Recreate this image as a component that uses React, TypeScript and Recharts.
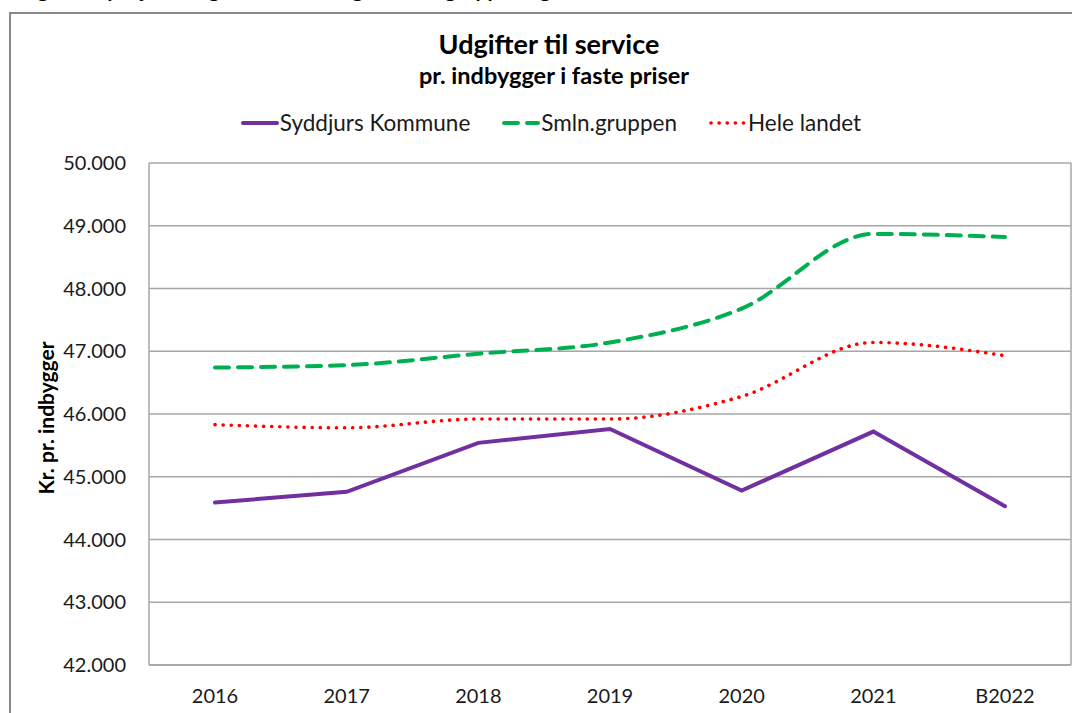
import { LineChart, Line, XAxis, YAxis, CartesianGrid } from "recharts";

const years = ["2016", "2017", "2018", "2019", "2020", "2021", "B2022"];
const syddjurs = [44590, 44760, 45540, 45760, 44780, 45720, 44530];
const smln = [46740, 46780, 46960, 47140, 47680, 48870, 48820];
const heleLandet = [45830, 45780, 45920, 45920, 46280, 47140, 46930];
const yTicks = [42000, 43000, 44000, 45000, 46000, 47000, 48000, 49000, 50000];

const data = years.map((year, i) => ({ year, syddjurs: syddjurs[i], smln: smln[i], hele: heleLandet[i] }));

const FONT = "Lato, 'Open Sans', sans-serif";
const GRID = "#a6a6a6";

const SERIES = [
  { key: "syddjurs", name: "Syddjurs Kommune", color: "#7030a0", dash: undefined, width: 4, type: "linear" as const },
  { key: "smln", name: "Smln.gruppen", color: "#00b050", dash: "14 9", width: 4, type: "monotone" as const },
  { key: "hele", name: "Hele landet", color: "#ff0000", dash: "0.1 8", width: 3.6, type: "monotone" as const },
];

const fmt = (v: number) => v.toLocaleString("da-DK").replace(/,/g, ".");

function LegendBox() {
  return (
    <div style={{ display: "flex", alignItems: "center", fontSize: 22.5, color: "#1a1a1a" }}>
      {SERIES.map((s, i) => (
        <div key={s.key} style={{ display: "flex", alignItems: "center", marginLeft: i === 0 ? 0 : 32 }}>
          <svg width={38} height={8} style={{ marginRight: 1 }}>
            <line x1={2} y1={4} x2={36} y2={4} stroke={s.color} strokeWidth={s.width} strokeDasharray={s.dash} strokeLinecap="round" />
          </svg>
          <span>{s.name}</span>
        </div>
      ))}
    </div>
  );
}

export default function App() {
  return (
    <div style={{ position: "fixed", left: 0, top: 0, width: 1072, height: 713, overflow: "hidden", background: "#fff", fontFamily: FONT }}>
      <div style={{ position: "absolute", left: 0, top: 0 }}>
        <LineChart width={1072} height={713} data={data} margin={{ top: 163, right: 0, left: 0, bottom: 0 }}>
          <CartesianGrid vertical={false} stroke={GRID} strokeWidth={1.5} />
          <XAxis dataKey="year" height={48} padding={{ left: 66, right: 66 }} axisLine={{ stroke: GRID, strokeWidth: 1.5 }}
            tickLine={false} tickMargin={18} tick={{ fill: "#1a1a1a", fontSize: 20, fontFamily: FONT }} />
          <YAxis width={149} domain={[42000, 50000]} ticks={yTicks} tickFormatter={fmt} axisLine={{ stroke: GRID, strokeWidth: 1.5 }}
            tickLine={false} tickMargin={17} tick={{ fill: "#1a1a1a", fontSize: 20, fontFamily: FONT }} />
          <YAxis yAxisId="right" orientation="right" width={1} domain={[42000, 50000]} tick={false} tickLine={false}
            axisLine={{ stroke: GRID, strokeWidth: 1.5 }} />
          {SERIES.map((s) => (
            <Line key={s.key} dataKey={s.key} name={s.name} type={s.type} stroke={s.color} strokeWidth={s.width}
              strokeDasharray={s.dash} strokeLinecap="round" dot={false} activeDot={false} isAnimationActive={false} />
          ))}
        </LineChart>
      </div>
      <div style={{ position: "absolute", left: 20, top: -24, whiteSpace: "nowrap", fontSize: 21, fontWeight: 700, color: "#000" }}>
        Figur 2. Syddjurs, udgifter sammenlignet med gruppen og hele landet
      </div>
      <div style={{ position: "absolute", left: 9, top: 12, width: 1200, height: 800, border: "2px solid #8a8a8a" }} />
      <div style={{ position: "absolute", left: 0, width: 1098, top: 27, textAlign: "center", fontSize: 27, fontWeight: 700, color: "#000" }}>
        Udgifter til service
      </div>
      <div style={{ position: "absolute", left: 0, width: 1108, top: 61, textAlign: "center", fontSize: 23.5, fontWeight: 700, color: "#000" }}>
        pr. indbygger i faste priser
      </div>
      <div style={{ position: "absolute", left: 0, top: 109, width: 1102, display: "flex", justifyContent: "center" }}>
        <LegendBox />
      </div>
      <div style={{ position: "absolute", left: 45, top: 418, transform: "translate(-50%, -50%) rotate(-90deg)", whiteSpace: "nowrap", fontSize: 21, fontWeight: 700, color: "#000" }}>
        Kr. pr. indbygger
      </div>
    </div>
  );
}
